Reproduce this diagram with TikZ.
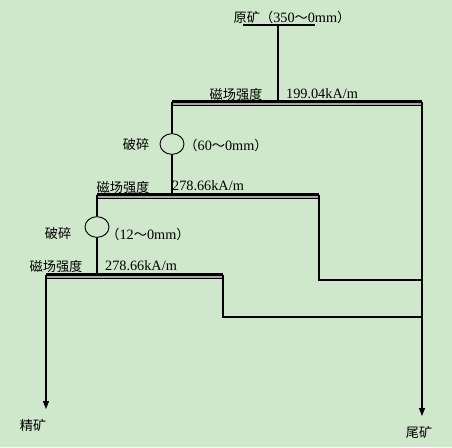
\documentclass[tikz,border=0pt]{standalone}
\usepackage{fontspec}
\setmainfont{Liberation Serif}[Scale=1.08]
\newfontfamily\cjk{Noto Sans CJK SC}
\usepackage{xcolor}
\definecolor{paper}{HTML}{CFE8CB}
\usetikzlibrary{shapes,arrows.meta}
\tikzstyle{line} = [draw, line width=0.8pt]
\tikzstyle{flow} = [draw, line width=0.8pt, -{Triangle[width=4.5pt,length=6pt]}]
\tikzstyle{bar} = [draw, line width=2.4pt]
\tikzstyle{crusher} = [ellipse, draw, line width=0.7pt, minimum width=18pt, minimum height=15.5pt, inner sep=0pt]
\tikzstyle{label} = [inner sep=0pt, font=\fontsize{9.9pt}{10pt}\selectfont]
\newcommand{\bars}[3]{% double separator line
    \path [bar] (#1,#3) -- (#2,#3);
    \fill [gray!70] (#1,#3+1.4) rectangle (#2,#3+3.2);
    \path [line,line width=0.7pt] (#1,#3+3.6) -- (#2,#3+3.6);}

\begin{document}
\begin{tikzpicture}[x=0.75pt,y=-0.75pt]
    \useasboundingbox [fill=paper] (0,0) rectangle (452,447);
    % Place nodes
    \node[label] (feed) at (292,17) {{\cjk 原矿（}350{\cjk ～}0mm{\cjk ）}};
    \coordinate (feedA) at (243,25);
    \coordinate (feedB) at (315,25);
    \coordinate (feedC) at (278,25);

    \node[label] (field1) at (236,94) {\cjk 磁场强度};
    \node[label] (value1) at (322,94) {199.04kA/m};
    \coordinate (sepA) at (172,102);
    \coordinate (sepB) at (422,102);
    \coordinate (sepC) at (278,102);

    \node[crusher] (crush1) at (172,144) {};
    \node[label] (name1) at (136,144) {\cjk 破碎};
    \node[label] (size1) at (226,145) {{\cjk （}60{\cjk ～}0mm{\cjk ）}};

    \node[label] (field2) at (123,187) {\cjk 磁场强度};
    \node[label] (value2) at (208,186) {278.66kA/m};
    \coordinate (sepD) at (97,195);
    \coordinate (sepE) at (319,195);
    \coordinate (sepF) at (172,195);

    \node[crusher] (crush2) at (97,227) {};
    \node[label] (name2) at (58,233) {\cjk 破碎};
    \node[label] (size2) at (148,234) {{\cjk （}12{\cjk ～}0mm{\cjk ）}};

    \node[label] (field3) at (56,266) {\cjk 磁场强度};
    \node[label] (value3) at (141,266) {278.66kA/m};
    \coordinate (sepG) at (46,275);
    \coordinate (sepH) at (223,275);
    \coordinate (sepI) at (97,275);

    \coordinate (tail2) at (319,280);
    \coordinate (tail3) at (223,317);
    \coordinate (tailsR2) at (422,280);
    \coordinate (tailsR3) at (422,317);
    \coordinate (concEnd) at (46,409);
    \coordinate (tailEnd) at (422,416);
    \node[label] (conc) at (33,425) {\cjk 精矿};
    \node[label] (tails) at (419,432) {\cjk 尾矿};

    % Draw separators
    \bars{172}{422}{102}
    \bars{97}{319}{195}
    \bars{46}{223}{275}

    % Draw edges
    \path [line] (feedA) -- (feedB);
    \path [line] (feedC) -- (sepC);
    \path [line] (sepA) -- (crush1);
    \path [line] (crush1) -- (sepF);
    \path [line] (sepD) -- (crush2);
    \path [line] (crush2) -- (sepI);
    \path [line] (sepE) -- (tail2) -- (tailsR2);
    \path [line] (sepH) -- (tail3) -- (tailsR3);
    \path [flow] (sepG) -- (concEnd);
    \path [flow] (sepB) -- (tailEnd);
\end{tikzpicture}
\end{document}
